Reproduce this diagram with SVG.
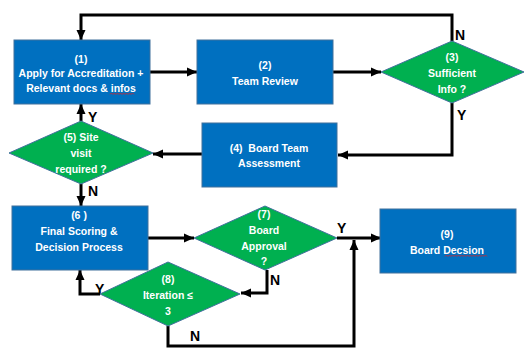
<svg xmlns="http://www.w3.org/2000/svg" width="525" height="352" viewBox="0 0 525 352">
<defs>
<marker id="ah" markerUnits="userSpaceOnUse" markerWidth="10" markerHeight="10" viewBox="0 0 10 10" refX="10" refY="5" orient="auto">
<path d="M0,0.5 L10,5 L0,9.5 Z" fill="#000"/>
</marker>
<style>
.box{fill:#0070C0;stroke:#41719C;stroke-width:1}
.dia{fill:#00B050;stroke:#41719C;stroke-width:1}
.t{font-family:"Liberation Sans",Arial,sans-serif;font-weight:bold;font-size:10.5px;fill:#fff;text-anchor:middle}
.lb{font-family:"Liberation Sans",Arial,sans-serif;font-weight:bold;font-size:14px;fill:#000}
.c{fill:none;stroke:#000;stroke-width:3}
.sp{fill:none;stroke:#E02020;stroke-width:0.8}
</style>
</defs>
<rect width="525" height="352" fill="#fff"/>
<g id="connectors">
<path class="c" d="M150,72 H197" marker-end="url(#ah)"/>
<path class="c" d="M333,72 H381" marker-end="url(#ah)"/>
<path class="c" d="M452,41 V15 H81 V40" marker-end="url(#ah)"/>
<path class="c" d="M452,103 V155 H338" marker-end="url(#ah)"/>
<path class="c" d="M202,154 H153" marker-end="url(#ah)"/>
<path class="c" d="M81,121 V104" marker-end="url(#ah)"/>
<path class="c" d="M81,184 V206" marker-end="url(#ah)"/>
<path class="c" d="M148,238 H194" marker-end="url(#ah)"/>
<path class="c" d="M337,238 H381" marker-end="url(#ah)"/>
<path class="c" d="M267,270 V293 H241" marker-end="url(#ah)"/>
<path class="c" d="M100,294 H80 V270" marker-end="url(#ah)"/>
<path class="c" d="M168,326 V346 H354 V240" marker-end="url(#ah)"/>
<text class="lb" x="455" y="40">N</text>
<text class="lb" x="457" y="120">Y</text>
<text class="lb" x="88" y="122">Y</text>
<text class="lb" x="88" y="196">N</text>
<text class="lb" x="337" y="233">Y</text>
<text class="lb" x="270" y="285">N</text>
<text class="lb" x="95" y="294">Y</text>
<text class="lb" x="190" y="341">N</text>
</g>
<g id="n1">
<rect class="box" x="14" y="40" width="136" height="64"/>
<text class="t" x="81" y="63">(1)</text>
<text class="t" x="81" y="77">Apply for Accreditation +</text>
<text class="t" x="81" y="92">Relevant docs &amp; infos</text>
<path class="sp" d="M110,94.5 l1.5,-1.5 l1.5,1.5 l1.5,-1.5 l1.5,1.5 l1.5,-1.5 l1.5,1.5 l1.5,-1.5 l1.5,1.5 l1.5,-1.5 l1.5,1.5 l1.5,-1.5 l1.5,1.5 l1.5,-1.5 l1.5,1.5 l1.5,-1.5 l1.5,1.5"/>
</g>
<g id="n2">
<rect class="box" x="197" y="40" width="136" height="64"/>
<text class="t" x="265" y="68.5">(2)</text>
<text class="t" x="265" y="84.5">Team Review</text>
</g>
<g id="n3">
<polygon class="dia" points="452,41 524,72 452,103 381,72"/>
<text class="t" x="452" y="60.5">(3)</text>
<text class="t" x="452" y="76.5">Sufficient</text>
<text class="t" x="452" y="92.5">Info ?</text>
</g>
<g id="n4">
<rect class="box" x="202" y="123" width="135" height="64"/>
<text class="t" x="269" y="151.5" xml:space="preserve">(4)  Board Team</text>
<text class="t" x="269" y="166.5">Assessment</text>
</g>
<g id="n5">
<polygon class="dia" points="81,121 153,153 81,184 9,153"/>
<text class="t" x="81" y="140.5">(5) Site</text>
<text class="t" x="81" y="156.5">visit</text>
<text class="t" x="81" y="172.5">required ?</text>
</g>
<g id="n6">
<rect class="box" x="12" y="206" width="136" height="64"/>
<text class="t" x="79" y="218.5">(6 )</text>
<text class="t" x="79" y="234.5">Final Scoring &amp;</text>
<text class="t" x="79" y="250.5">Decision Process</text>
</g>
<g id="n7">
<polygon class="dia" points="265,206 337,238 265,270 194,238"/>
<text class="t" x="264" y="217.5">(7)</text>
<text class="t" x="264" y="233.5">Board</text>
<text class="t" x="264" y="249.5">Approval</text>
<text class="t" x="264" y="264.5">?</text>
</g>
<g id="n8">
<polygon class="dia" points="168,262 240,294 168,326 100,294"/>
<text class="t" x="168" y="282.5">(8)</text>
<text class="t" x="168" y="298.5">Iteration ≤</text>
<text class="t" x="168" y="314.5">3</text>
</g>
<g id="n9">
<rect class="box" x="380" y="209" width="136" height="64"/>
<text class="t" x="447" y="237.5">(9)</text>
<text class="t" x="447" y="253.5">Board Decsion</text>
<path class="sp" d="M445,256.5 l1.5,-1.5 l1.5,1.5 l1.5,-1.5 l1.5,1.5 l1.5,-1.5 l1.5,1.5 l1.5,-1.5 l1.5,1.5 l1.5,-1.5 l1.5,1.5 l1.5,-1.5 l1.5,1.5 l1.5,-1.5 l1.5,1.5 l1.5,-1.5 l1.5,1.5 l1.5,-1.5 l1.5,1.5 l1.5,-1.5 l1.5,1.5 l1.5,-1.5 l1.5,1.5 l1.5,-1.5 l1.5,1.5 l1.5,-1.5 l1.5,1.5 l1.5,-1.5 l1.5,1.5"/>
</g>
</svg>
